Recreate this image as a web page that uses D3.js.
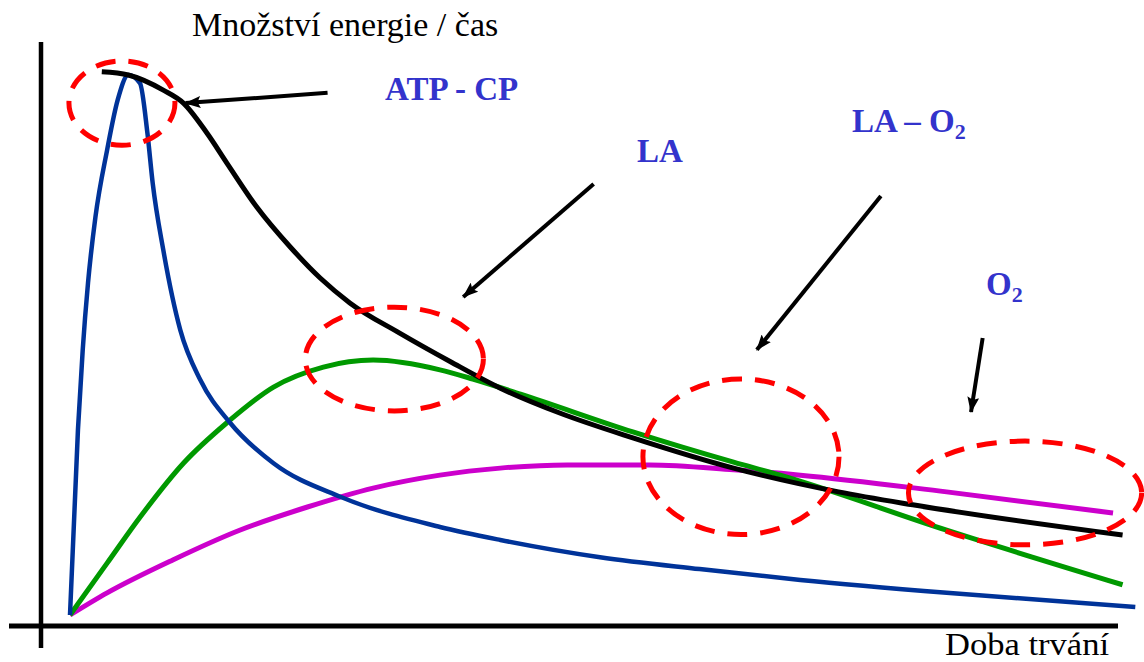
<!DOCTYPE html>
<html>
<head>
<meta charset="utf-8">
<script src="https://cdn.jsdelivr.net/npm/d3@7"></script>
<style>
  html, body { margin: 0; padding: 0; background: #fff; }
  svg { display: block; }
</style>
</head>
<body>
<svg id="chart" width="1144" height="662"></svg>
<script>
// ---------------- DATA (time units 0..100, energy units 0..100) ----------------
const atpCpTime   = [0, 0.75, 1.2, 1.7, 2.4, 3.5, 4.5, 5.5, 6.6, 7.3, 7.8, 8.8, 10.4, 12.3, 15.1, 19.2, 25.5, 34.9, 40.6, 50.0, 59.4, 68.9, 82.7, 100.5];
const atpCpEnergy = [0, 34.3, 49.1, 61.5, 73.7, 86.1, 95.4, 100, 98.5, 89.3, 80.0, 67.6, 52.8, 43.5, 35.6, 28.1, 21.9, 16.3, 13.9, 10.7, 8.5, 6.5, 4.1, 1.5];

const laTime   = [0, 3.5, 6.6, 10.7, 14.8, 19.2, 23.9, 28.6, 34.9, 38.0, 42.5, 53.1, 62.6, 67.0, 82.7, 99.3];
const laEnergy = [0, 9.6, 18.1, 28.1, 35.6, 42.2, 45.9, 47.2, 45.4, 43.7, 40.9, 33.9, 28.3, 25.9, 15.7, 5.6];

const o2Time   = [0, 3.5, 9.7, 16.0, 22.4, 28.6, 34.9, 40.6, 46.9, 54.7, 62.6, 68.9, 82.7, 98.4];
const o2Energy = [0, 4.1, 10.2, 15.7, 20.0, 23.5, 25.9, 27.2, 27.8, 27.8, 26.9, 25.9, 22.8, 18.9];

const totalTime   = [3.0, 5.5, 8.8, 10.7, 12.9, 14.8, 17.6, 20.8, 23.6, 26.4, 31.1, 35.9, 40.6, 46.2, 53.1, 62.6, 72.5, 79.5, 99.3];
const totalEnergy = [100.6, 100, 97.2, 94.8, 89.3, 83.7, 75.6, 68.1, 62.4, 57.8, 52.2, 46.9, 42.0, 37.4, 32.8, 27.2, 22.8, 20.4, 14.8];

const axisTitleY = "Množství energie / čas";
const axisTitleX = "Doba trvání";
const zoneLabels = ["ATP - CP", "LA", "LA – O", "O"];

// highlighted zones (centre time, centre energy, half-width time, half-height energy)
const zoneCx = [4.9, 30.6, 63.3, 90.1];
const zoneCy = [94.8, 47.4, 29.3, 22.6];
const zoneRx = [5.0, 8.4, 9.25, 11.0];
const zoneRy = [7.8, 9.6, 14.4, 9.6];

// pointer arrows (from -> to) in data units
const arrowFromT = [24.3, 49.4, 76.5, 86.1];
const arrowFromE = [96.7, 79.8, 77.6, 51.3];
const arrowToT   = [10.9, 37.1, 64.8, 85.0];
const arrowToE   = [94.8, 58.9, 49.1, 37.6];

// ---------------- LAYOUT ----------------
const svg = d3.select("#chart");
const x = d3.scaleLinear().domain([0, 100]).range([70, 1130]);
const y = d3.scaleLinear().domain([0, 100]).range([615, 75]);

// axes (plain lines, no ticks)
svg.append("line").attr("x1", 41).attr("x2", 41).attr("y1", 42).attr("y2", 648)
  .attr("stroke", "#000").attr("stroke-width", 4.5);
svg.append("line").attr("x1", 9).attr("x2", 1118).attr("y1", 626).attr("y2", 626)
  .attr("stroke", "#000").attr("stroke-width", 5);

const line = d3.line().x(d => x(d[0])).y(d => y(d[1])).curve(d3.curveMonotoneX);
const zip = (a, b) => a.map((v, i) => [v, b[i]]);

const series = [
  {t: o2Time, e: o2Energy, color: "#cc00cc", w: 5},
  {t: laTime, e: laEnergy, color: "#009900", w: 5},
  {t: atpCpTime, e: atpCpEnergy, color: "#003399", w: 4.5},
  {t: totalTime, e: totalEnergy, color: "#000000", w: 5}
];
svg.selectAll("path.series").data(series).join("path")
  .attr("class", "series")
  .attr("d", s => line(zip(s.t, s.e)))
  .attr("fill", "none")
  .attr("stroke", s => s.color)
  .attr("stroke-width", s => s.w)
  .attr("stroke-linejoin", "round")
  .attr("stroke-linecap", "butt");

// red dashed ellipses
svg.selectAll("ellipse.zone").data(zoneCx.map((c, i) => i)).join("ellipse")
  .attr("class", "zone")
  .attr("cx", i => x(zoneCx[i]))
  .attr("cy", i => y(zoneCy[i]))
  .attr("rx", i => x(zoneRx[i]) - x(0))
  .attr("ry", i => y(0) - y(zoneRy[i]))
  .attr("fill", "none")
  .attr("stroke", "#ff0000")
  .attr("stroke-width", 5)
  .attr("stroke-dasharray", "20,13");

// arrows
const defs = svg.append("defs");
defs.append("marker").attr("id", "head")
  .attr("markerUnits", "userSpaceOnUse")
  .attr("viewBox", "0 0 16 12").attr("refX", 15).attr("refY", 6)
  .attr("markerWidth", 16).attr("markerHeight", 12)
  .attr("orient", "auto")
  .append("path").attr("d", "M0,0 L16,6 L0,12 L3,6 Z").attr("fill", "#000");

svg.selectAll("line.arrow").data(arrowFromT.map((c, i) => i)).join("line")
  .attr("class", "arrow")
  .attr("x1", i => x(arrowFromT[i])).attr("y1", i => y(arrowFromE[i]))
  .attr("x2", i => x(arrowToT[i])).attr("y2", i => y(arrowToE[i]))
  .attr("stroke", "#000").attr("stroke-width", 4)
  .attr("marker-end", "url(#head)");

// texts
const serif = "'Liberation Serif', 'Times New Roman', serif";
svg.append("text").attr("x", 192).attr("y", 36)
  .attr("font-family", serif).attr("font-size", 34).attr("fill", "#000")
  .text(axisTitleY);
svg.append("text").attr("x", 945).attr("y", 655)
  .attr("font-family", serif).attr("font-size", 32).attr("fill", "#000")
  .attr("textLength", 164).attr("lengthAdjust", "spacingAndGlyphs")
  .text(axisTitleX);

const labelPos = [[385, 100], [637, 162], [852, 132], [986, 295]];
const subs = [false, false, true, true];
zoneLabels.forEach((lab, i) => {
  const t = svg.append("text").attr("x", labelPos[i][0]).attr("y", labelPos[i][1])
    .attr("font-family", serif).attr("font-weight", "bold").attr("font-size", 33)
    .attr("fill", "#3333cc");
  t.append("tspan").text(lab);
  if (subs[i]) t.append("tspan").attr("font-size", 22).attr("dy", 7).text("2");
});
</script>
</body>
</html>
